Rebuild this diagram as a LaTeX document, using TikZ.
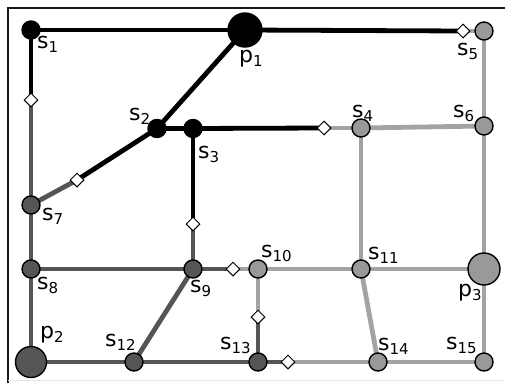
\documentclass[tikz,border=0pt]{standalone}
\usepackage{fontspec}
\setmainfont{DejaVu Sans}
\usetikzlibrary{shapes.geometric}
\definecolor{cdark}{HTML}{555555}
\definecolor{clight}{HTML}{A3A3A3}
\definecolor{cnlight}{HTML}{999999}
\newcommand\lab[2]{#1\raisebox{-4.5pt}{\fontsize{15}{15}\selectfont #2}}
\tikzset{
  sn/.style={circle, draw=black, line width=1.4pt, minimum size=18pt, inner sep=0pt},
  bn/.style={sn, minimum size=32pt},
  gblack/.style={fill=black},
  gdark/.style={fill=cdark},
  glight/.style={fill=cnlight},
  dm/.style={diamond, draw=black, fill=white, line width=1pt, minimum width=14pt, minimum height=14pt, inner sep=0pt},
  eb/.style={draw=black, line width=4.8pt},
  ed/.style={draw=cdark, line width=4.8pt},
  el/.style={draw=clight, line width=4.8pt},
  lb/.style={anchor=base west, inner sep=0pt, font=\fontsize{22}{22}\selectfont},
}
\begin{document}
\begin{tikzpicture}[x=1pt,y=-1pt]
\useasboundingbox (0,0) rectangle (505,383);
% frame
\coordinate (f1) at (8,8); \coordinate (f2) at (505,8); \coordinate (f3) at (8,383);
\coordinate (f4) at (8,380); \coordinate (f5) at (505,380);
\draw[line width=1.8pt, color=black!90] (f2) -- (f1) -- (f3);
\draw[line width=1pt, color=black!10] (f4) -- (f5);
% node positions
\coordinate (ps1) at (31,30);
\coordinate (pp1) at (245,30);
\coordinate (ps5) at (484,31);
\coordinate (ps2) at (157,128.5);
\coordinate (ps3) at (193,128.5);
\coordinate (ps4) at (361,128);
\coordinate (ps6) at (484,126);
\coordinate (ps7) at (31,205);
\coordinate (ps8) at (31,269);
\coordinate (ps9) at (193,269);
\coordinate (ps10) at (258,269);
\coordinate (ps11) at (361,269);
\coordinate (pp3) at (484,269);
\coordinate (pp2) at (31,362);
\coordinate (ps12) at (134,362);
\coordinate (ps13) at (258,362);
\coordinate (ps14) at (378,362);
\coordinate (ps15) at (484,362);
% diamond positions
\coordinate (pd1) at (31,100);
\coordinate (pd2) at (77,180);
\coordinate (pd3) at (324,128);
\coordinate (pd4) at (463,31);
\coordinate (pd5) at (193,224);
\coordinate (pd6) at (233,269);
\coordinate (pd7) at (258,317);
\coordinate (pd8) at (288,362);
% edges
\path[eb] (ps1) -- (pp1);
\path[eb] (pp1) -- (ps2);
\path[eb] (ps2) -- (ps3);
\path[eb] (ps3) -- (pd3); \path[el] (pd3) -- (ps4);
\path[eb] (pp1) -- (pd4); \path[el] (pd4) -- (ps5);
\path[eb] (ps1) -- (pd1); \path[ed] (pd1) -- (ps7);
\path[eb] (ps2) -- (pd2); \path[ed] (pd2) -- (ps7);
\path[eb] (ps3) -- (pd5); \path[ed] (pd5) -- (ps9);
\path[ed] (ps7) -- (ps8);
\path[ed] (ps8) -- (pp2);
\path[ed] (ps8) -- (ps9);
\path[ed] (ps9) -- (ps12);
\path[ed] (pp2) -- (ps12);
\path[ed] (ps12) -- (ps13);
\path[ed] (ps9) -- (pd6); \path[el] (pd6) -- (ps10);
\path[el] (ps10) -- (pd7); \path[ed] (pd7) -- (ps13);
\path[ed] (ps13) -- (pd8); \path[el] (pd8) -- (ps14);
\path[el] (ps10) -- (ps11);
\path[el] (ps11) -- (pp3);
\path[el] (ps4) -- (ps11);
\path[el] (ps11) -- (ps14);
\path[el] (ps14) -- (ps15);
\path[el] (ps4) -- (ps6);
\path[el] (ps5) -- (ps6);
\path[el] (ps6) -- (pp3);
\path[el] (pp3) -- (ps15);
% diamonds
\foreach \i in {1,...,8} { \node[dm] (d\i) at (pd\i) {}; }
% nodes
\node[sn,gblack] (s1) at (ps1) {};
\node[bn,gblack, minimum size=34pt] (p1) at (pp1) {};
\node[sn,gblack] (s2) at (ps2) {};
\node[sn,gblack] (s3) at (ps3) {};
\node[sn,glight] (s4) at (ps4) {};
\node[sn,glight] (s5) at (ps5) {};
\node[sn,glight] (s6) at (ps6) {};
\node[sn,gdark] (s7) at (ps7) {};
\node[sn,gdark] (s8) at (ps8) {};
\node[sn,gdark] (s9) at (ps9) {};
\node[sn,glight] (s10) at (ps10) {};
\node[sn,glight] (s11) at (ps11) {};
\node[bn,glight] (p3) at (pp3) {};
\node[bn,gdark, minimum size=31pt] (p2) at (pp2) {};
\node[sn,gdark] (s12) at (ps12) {};
\node[sn,gdark] (s13) at (ps13) {};
\node[sn,glight] (s14) at (ps14) {};
\node[sn,glight] (s15) at (ps15) {};
% labels
\node[lb] (l1) at (37,48) {\lab{s}{1}};
\node[lb] (lp1) at (239,62) {\lab{p}{1}};
\node[lb] (l2) at (129,120) {\lab{s}{2}};
\node[lb] (l3) at (198,158) {\lab{s}{3}};
\node[lb] (l4) at (352,117) {\lab{s}{4}};
\node[lb] (l5) at (457,55) {\lab{s}{5}};
\node[lb] (l6) at (453,117) {\lab{s}{6}};
\node[lb] (l7) at (42,220) {\lab{s}{7}};
\node[lb] (l8) at (37,289) {\lab{s}{8}};
\node[lb] (l9) at (190,292) {\lab{s}{9}};
\node[lb] (l10) at (261,257) {\lab{s}{10}};
\node[lb] (l11) at (368,259) {\lab{s}{11}};
\node[lb] (lp3) at (458,296) {\lab{p}{3}};
\node[lb] (lp2) at (40,338) {\lab{p}{2}};
\node[lb] (l12) at (105,346) {\lab{s}{12}};
\node[lb] (l13) at (220,349) {\lab{s}{13}};
\node[lb] (l14) at (378,350) {\lab{s}{14}};
\node[lb] (l15) at (446,349) {\lab{s}{15}};
\end{tikzpicture}
\end{document}
